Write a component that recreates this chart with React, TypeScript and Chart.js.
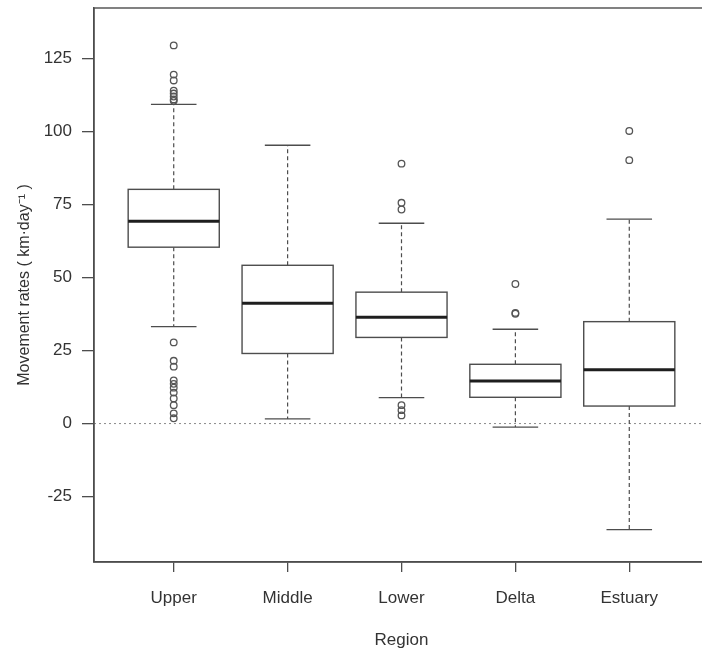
import { useEffect, useRef } from 'react';
import { Chart, registerables } from 'chart.js';

Chart.register(...registerables);

// Movement rates by river region (km·day⁻¹)
const regions = ['Upper', 'Middle', 'Lower', 'Delta', 'Estuary'];
const whiskerLow = [33.2, 1.6, 8.9, -1.2, -36.3];
const quartile1 = [60.4, 24.0, 29.5, 9.0, 6.0];
const medians = [69.3, 41.2, 36.4, 14.6, 18.4];
const quartile3 = [80.2, 54.2, 45.0, 20.3, 34.9];
const whiskerHigh = [109.3, 95.3, 68.6, 32.3, 70.0];

const upperOutliers = [129.5, 119.5, 117.5, 114, 113, 112, 111, 110.5, 27.8, 21.5, 19.5, 14.8, 13.6, 12.3, 10.6, 8.6, 6.3, 3.5, 1.8];
const middleOutliers: number[] = [];
const lowerOutliers = [89, 75.6, 73.3, 6.3, 4.6, 2.8];
const deltaOutliers = [47.8, 37.9, 37.6];
const estuaryOutliers = [100.2, 90.2];

const yTickValues = [-25, 0, 25, 50, 75, 100, 125];

const outlierSets = [upperOutliers, middleOutliers, lowerOutliers, deltaOutliers, estuaryOutliers];

const LINE = '#4d4d4d';
const TEXT = '#333333';
const FONT = "'Liberation Sans', Arial, Helvetica, sans-serif";

const boxPlugin = {
  id: 'boxes',
  beforeDatasetsDraw(chart: any) {
    const { ctx, chartArea, scales } = chart;
    const x = scales.x;
    const y = scales.y;
    ctx.save();

    // dotted reference line at zero
    const y0 = y.getPixelForValue(0);
    ctx.strokeStyle = '#8a8a8a';
    ctx.lineWidth = 1;
    ctx.setLineDash([2, 3]);
    ctx.beginPath();
    ctx.moveTo(chartArea.left, y0);
    ctx.lineTo(chartArea.right, y0);
    ctx.stroke();

    regions.forEach((_, i) => {
      const cx = x.getPixelForValue(i + 1);
      const boxHalf = x.getPixelForValue(i + 1.4) - cx;
      const capHalf = x.getPixelForValue(i + 1.2) - cx;
      const pLow = y.getPixelForValue(whiskerLow[i]);
      const pQ1 = y.getPixelForValue(quartile1[i]);
      const pMed = y.getPixelForValue(medians[i]);
      const pQ3 = y.getPixelForValue(quartile3[i]);
      const pHigh = y.getPixelForValue(whiskerHigh[i]);

      // dashed whiskers
      ctx.strokeStyle = LINE;
      ctx.lineWidth = 1.2;
      ctx.setLineDash([4, 3]);
      ctx.beginPath();
      ctx.moveTo(cx, pQ3);
      ctx.lineTo(cx, pHigh);
      ctx.moveTo(cx, pQ1);
      ctx.lineTo(cx, pLow);
      ctx.stroke();

      // whisker caps
      ctx.setLineDash([]);
      ctx.lineWidth = 1.4;
      ctx.beginPath();
      ctx.moveTo(cx - capHalf, pHigh);
      ctx.lineTo(cx + capHalf, pHigh);
      ctx.moveTo(cx - capHalf, pLow);
      ctx.lineTo(cx + capHalf, pLow);
      ctx.stroke();

      // box
      ctx.fillStyle = '#ffffff';
      ctx.fillRect(cx - boxHalf, pQ3, boxHalf * 2, pQ1 - pQ3);
      ctx.lineWidth = 1.4;
      ctx.strokeRect(cx - boxHalf, pQ3, boxHalf * 2, pQ1 - pQ3);

      // median
      ctx.strokeStyle = '#1e1e1e';
      ctx.lineWidth = 3;
      ctx.beginPath();
      ctx.moveTo(cx - boxHalf, pMed);
      ctx.lineTo(cx + boxHalf, pMed);
      ctx.stroke();
    });
    ctx.restore();
  },
  afterDraw(chart: any) {
    const { ctx, chartArea } = chart;
    ctx.save();
    ctx.strokeStyle = LINE;
    ctx.lineWidth = 1.4;
    ctx.strokeRect(chartArea.left, chartArea.top, chartArea.right - chartArea.left, chartArea.bottom - chartArea.top);
    ctx.restore();
  },
};

export default function App() {
  const canvasRef = useRef<HTMLCanvasElement | null>(null);

  useEffect(() => {
    const canvas = canvasRef.current;
    if (!canvas) return;
    const points = outlierSets.flatMap((set, i) => set.map((v) => ({ x: i + 1, y: v })));
    const chart = new Chart(canvas, {
      type: 'scatter',
      data: {
        datasets: [
          {
            data: points,
            pointStyle: 'circle',
            pointRadius: 3.3,
            pointBorderWidth: 1.3,
            pointBorderColor: '#555555',
            pointBackgroundColor: 'rgba(0,0,0,0)',
            clip: false,
          } as any,
        ],
      },
      options: {
        responsive: false,
        animation: false,
        devicePixelRatio: 1,
        layout: { padding: { top: 8, right: 11, left: 0, bottom: 0 } },
        plugins: {
          legend: { display: false },
          tooltip: { enabled: false },
        },
        scales: {
          x: {
            type: 'linear',
            min: 0.3,
            max: 5.7,
            afterBuildTicks: (scale: any) => {
              scale.ticks = regions.map((_, i) => ({ value: i + 1 }));
            },
            afterFit: (scale: any) => {
              scale.height = 93;
              scale.paddingLeft = 0;
              scale.paddingRight = 0;
            },
            ticks: {
              callback: (v: any) => regions[Number(v) - 1] ?? '',
              autoSkip: false,
              maxRotation: 0,
              padding: 16,
              color: TEXT,
              font: { family: FONT, size: 17 },
            },
            grid: {
              display: true,
              drawOnChartArea: false,
              drawTicks: true,
              tickLength: 10,
              color: LINE,
              lineWidth: 1.3,
            },
            border: { display: true, color: LINE, width: 1.4 },
            title: {
              display: true,
              text: 'Region',
              color: TEXT,
              font: { family: FONT, size: 17 },
              padding: { top: 0, bottom: 4 },
            },
          },
          y: {
            type: 'linear',
            min: -47.4,
            max: 142.3,
            afterBuildTicks: (scale: any) => {
              scale.ticks = yTickValues.map((v) => ({ value: v }));
            },
            afterFit: (scale: any) => {
              scale.width = 94;
              scale.paddingTop = 0;
              scale.paddingBottom = 0;
            },
            ticks: {
              padding: 10,
              color: TEXT,
              font: { family: FONT, size: 17 },
            },
            grid: {
              display: true,
              drawOnChartArea: false,
              drawTicks: true,
              tickLength: 12,
              color: LINE,
              lineWidth: 1.3,
            },
            border: { display: true, color: LINE, width: 1.4 },
            title: {
              display: true,
              text: 'Movement rates ( km·day⁻¹ )',
              color: TEXT,
              font: { family: FONT, size: 16 },
              padding: { top: 15, bottom: 0 },
            },
          },
        },
      },
      plugins: [boxPlugin],
    });
    return () => chart.destroy();
  }, []);

  return (
    <div
      style={{
        position: 'fixed',
        left: 0,
        top: 0,
        width: 702,
        height: 655,
        overflow: 'hidden',
        background: '#ffffff',
      }}
    >
      <canvas ref={canvasRef} width={720} height={655} style={{ display: 'block', width: 720, height: 655 }} />
    </div>
  );
}
